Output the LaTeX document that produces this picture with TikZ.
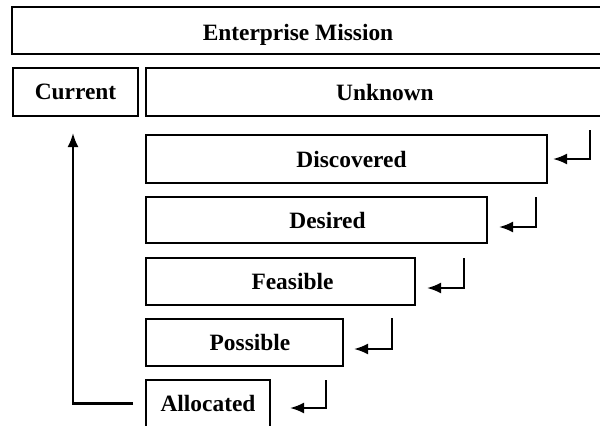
\documentclass[tikz,border=0pt]{standalone}
\usepackage{fontspec}
\setmainfont{Liberation Serif}
\usepackage{tikz}
\usetikzlibrary{arrows.meta,positioning,calc}

\begin{document}
\begin{tikzpicture}[
  font=\fontsize{11.7}{14}\selectfont\bfseries,
  box/.style={draw, line width=1pt, inner sep=0pt, outer sep=0pt, minimum height=23.5pt},
  arr/.style={-{Latex[length=7pt,width=5.5pt]}, line width=1.1pt}]
\clip (0,0) rectangle (300pt,-212.5pt);
% top rows
\node[box, minimum width=299pt, anchor=north west,
  label={[name=missiontxt, xshift=-6.5pt, yshift=-2pt]center:Enterprise Mission}] (mission) at (6pt,-3.5pt) {};
\node[box, minimum width=62.5pt, minimum height=24pt, below=7pt of mission.south west,
  anchor=north west, xshift=0.5pt] (cur) {Current};
\node[box, minimum width=233pt, minimum height=24pt, right=4pt of cur,
  label={[name=unktxt, xshift=3pt]center:Unknown}] (unk) {};
% staircase
\node[box, minimum width=200.5pt, minimum height=24pt, below=9.5pt of unk.south west, anchor=north west] (disc) {\hspace*{5pt}Discovered};
\node[box, minimum width=170.5pt, minimum height=23pt, below=7pt of disc.south west, anchor=north west] (des) {\hspace*{11pt}Desired};
\node[box, minimum width=134.5pt, below=7.5pt of des.south west, anchor=north west] (feas) {\hspace*{12pt}Feasible};
\node[box, minimum width=98.5pt, below=7pt of feas.south west, anchor=north west] (poss) {\hspace*{5.5pt}Possible};
\node[box, minimum width=62pt, below=7pt of poss.south west, anchor=north west] (alloc) {Allocated};
% return arrows
\coordinate (disc-in) at ($(disc.north east)+(21.5pt,2.5pt)$);
\coordinate (des-in) at ($(des.north east)+(24.5pt,0)$);
\coordinate (feas-in) at ($(feas.north east)+(24.5pt,0)$);
\coordinate (poss-in) at ($(poss.north east)+(24.5pt,0.5pt)$);
\coordinate (alloc-in) at ($(alloc.north east)+(28pt,0)$);
\draw[arr] (disc-in) |- ($(disc.east)+(3pt,0)$);
\draw[arr] (des-in) |- ($(des.east)+(6pt,-3.5pt)$);
\draw[arr] (feas-in) |- ($(feas.east)+(6pt,-3.25pt)$);
\draw[arr] (poss-in) |- ($(poss.east)+(5.5pt,-3.25pt)$);
\draw[arr] (alloc-in) |- ($(alloc.east)+(10pt,-2.25pt)$);
% back to current
\draw[arr] ($(alloc.west)+(-6.5pt,0)$) -| ($(cur.south)+(-1.25pt,-8.5pt)$);
\end{tikzpicture}
\end{document}
